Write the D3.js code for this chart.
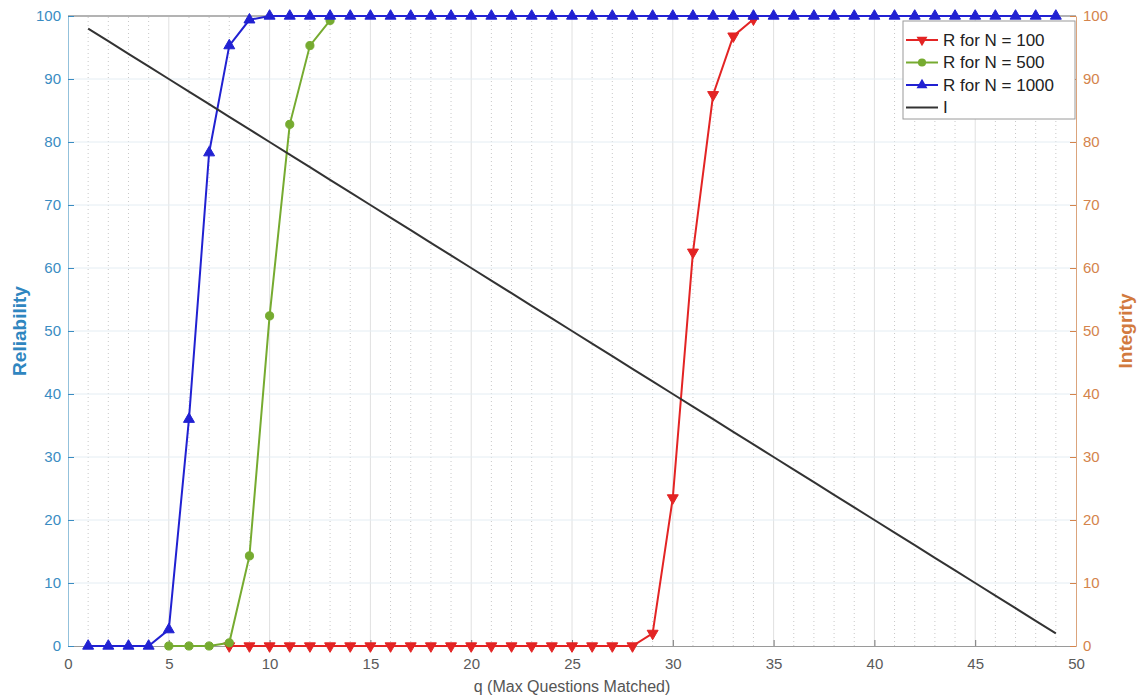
<!DOCTYPE html>
<html>
<head>
<meta charset="utf-8">
<script src="https://cdn.jsdelivr.net/npm/d3@7"></script>
<style>
  html, body { margin: 0; padding: 0; background: #fff; }
  svg { display: block; font-family: "Liberation Sans", Arial, sans-serif; }
</style>
</head>
<body>
<svg id="chart" width="1142" height="696"></svg>
<script>
// q = maximum number of questions matched
const q = [1,2,3,4,5,6,7,8,9,10,11,12,13,14,15,16,17,18,19,20,21,22,23,24,25,
           26,27,28,29,30,31,32,33,34,35,36,37,38,39,40,41,42,43,44,45,46,47,48,49];

// Reliability (%) for each population size; null = no sample drawn at that q
const reliabilityN100 = [null,null,null,null,null,null,null,0,0,0,0,0,0,0,0,0,0,0,0,0,0,0,0,0,0,
                         0,0,0,2,23.5,62.5,87.5,96.8,99.5,null,null,null,null,null,null,null,null,null,null,null,null,null,null,null];
const reliabilityN500 = [null,null,null,null,0,0,0,0.5,14.3,52.4,82.8,95.3,99.3,null,null,null,null,null,null,null,null,null,null,null,null,
                         null,null,null,null,null,null,null,null,null,null,null,null,null,null,null,null,null,null,null,null,null,null,null,null];
const reliabilityN1000 = [0,0,0,0,2.6,36,78.3,95.3,99.4,100,100,100,100,100,100,100,100,100,100,100,100,100,100,100,100,
                          100,100,100,100,100,100,100,100,100,100,100,100,100,100,100,100,100,100,100,100,100,100,100,100];

// Integrity (%), plotted against the right-hand axis
const integrity = [98,96,94,92,90,88,86,84,82,80,78,76,74,72,70,68,66,64,62,60,58,56,54,52,50,
                   48,46,44,42,40,38,36,34,32,30,28,26,24,22,20,18,16,14,12,10,8,6,4,2];

const xTicks = [0,5,10,15,20,25,30,35,40,45,50];
const yTicks = [0,10,20,30,40,50,60,70,80,90,100];
const legendLabels = ["R for N = 100", "R for N = 500", "R for N = 1000", "I"];

const leftColor = "#3a8cc2", leftLine = "#93c1db";
const rightColor = "#d4844c", rightLine = "#dba47c";

const svg = d3.select("#chart");
const x = d3.scaleLinear().domain([0, 50]).range([68, 1076]);
const yL = d3.scaleLinear().domain([0, 100]).range([646, 16]);
const yR = d3.scaleLinear().domain([0, 100]).range([646, 16]);

// grid: dotted minor verticals, solid major verticals, horizontal lines at every 10
const grid = svg.append("g");
grid.selectAll("line.minor").data(d3.range(1, 50).filter(v => v % 5 !== 0)).join("line")
  .attr("x1", d => x(d)).attr("x2", d => x(d)).attr("y1", yL(0)).attr("y2", yL(100))
  .attr("stroke", "#c8c8c8").attr("stroke-width", 1).attr("stroke-dasharray", "1,3");
grid.selectAll("line.major").data(xTicks.slice(1, -1)).join("line")
  .attr("x1", d => x(d)).attr("x2", d => x(d)).attr("y1", yL(0)).attr("y2", yL(100))
  .attr("stroke", "#e0e0e0").attr("stroke-width", 1);
grid.selectAll("line.h").data(yTicks.slice(1, -1)).join("line")
  .attr("x1", x(0)).attr("x2", x(50)).attr("y1", d => yL(d)).attr("y2", d => yL(d))
  .attr("stroke", "#e4edf3").attr("stroke-width", 1);

// box top
svg.append("line").attr("x1", x(0)).attr("x2", x(50)).attr("y1", yL(100)).attr("y2", yL(100))
  .attr("stroke", "#b3b3b3").attr("stroke-width", 2);

// axes
const fontSize = 15;
const xAxis = svg.append("g").attr("transform", `translate(0,${yL(0)})`)
  .call(d3.axisBottom(x).tickValues(xTicks).tickSizeInner(-6).tickSizeOuter(0).tickPadding(12));
xAxis.select(".domain").attr("stroke", "#9a9a9a");
xAxis.selectAll(".tick line").attr("stroke", "#777");
xAxis.selectAll("text").attr("fill", "#5a5a5a").attr("font-size", fontSize).attr("font-family", null);

const lAxis = svg.append("g").attr("transform", `translate(${x(0)},0)`)
  .call(d3.axisLeft(yL).tickValues(yTicks).tickSizeInner(-6).tickSizeOuter(0).tickPadding(7));
lAxis.select(".domain").attr("stroke", leftLine);
lAxis.selectAll(".tick line").attr("stroke", leftColor);
lAxis.selectAll("text").attr("fill", leftColor).attr("font-size", fontSize).attr("font-family", null);

const rAxis = svg.append("g").attr("transform", `translate(${x(50)},0)`)
  .call(d3.axisRight(yR).tickValues(yTicks).tickSizeInner(-6).tickSizeOuter(0).tickPadding(7));
rAxis.select(".domain").attr("stroke", rightLine);
rAxis.selectAll(".tick line").attr("stroke", rightColor);
rAxis.selectAll("text").attr("fill", rightColor).attr("font-size", fontSize).attr("font-family", null);

// titles
svg.append("text").attr("transform", `translate(26,331) rotate(-90)`)
  .attr("text-anchor", "middle").attr("font-size", 19).attr("font-weight", "bold")
  .attr("fill", "#2f86c0").text("Reliability");
svg.append("text").attr("transform", `translate(1132,331) rotate(-90)`)
  .attr("text-anchor", "middle").attr("font-size", 19).attr("font-weight", "bold")
  .attr("fill", "#d27a3e").text("Integrity");
svg.append("text").attr("x", (x(0) + x(50)) / 2).attr("y", 692)
  .attr("text-anchor", "middle").attr("font-size", 16).attr("fill", "#555")
  .text("q (Max Questions Matched)");

// reliability series
const series = [
  { values: reliabilityN100, color: "#e32424", symbol: d3.symbolTriangle, rot: 180 },
  { values: reliabilityN500, color: "#76ab30", symbol: d3.symbolCircle, rot: 0 },
  { values: reliabilityN1000, color: "#2121d2", symbol: d3.symbolTriangle, rot: 0 }
];

series.forEach(s => {
  const pts = q.map((d, i) => [d, s.values[i]]).filter(d => d[1] != null);
  svg.append("path").datum(pts)
    .attr("fill", "none").attr("stroke", s.color).attr("stroke-width", 2)
    .attr("d", d3.line().x(d => x(d[0])).y(d => yL(d[1])));
  svg.append("g").selectAll("path").data(pts).join("path")
    .attr("transform", d => `translate(${x(d[0])},${yL(d[1])}) rotate(${s.rot})`)
    .attr("d", d3.symbol().type(s.symbol).size(52))
    .attr("fill", s.color).attr("stroke", s.color).attr("stroke-width", 1);
});

// integrity line
svg.append("path").datum(q.map((d, i) => [d, integrity[i]]))
  .attr("fill", "none").attr("stroke", "#333").attr("stroke-width", 2)
  .attr("d", d3.line().x(d => x(d[0])).y(d => yR(d[1])));

// legend
const lg = svg.append("g");
lg.append("rect").attr("x", 903).attr("y", 21).attr("width", 172).attr("height", 98)
  .attr("fill", "#fff").attr("stroke", "#9a9a9a").attr("stroke-width", 1);
const legendItems = [
  { color: "#e32424", symbol: d3.symbolTriangle, rot: 180 },
  { color: "#76ab30", symbol: d3.symbolCircle, rot: 0 },
  { color: "#2121d2", symbol: d3.symbolTriangle, rot: 0 },
  { color: "#333", symbol: null, rot: 0 }
];
legendItems.forEach((it, i) => {
  const cy = 40 + i * 22.5;
  lg.append("line").attr("x1", 906).attr("x2", 938).attr("y1", cy).attr("y2", cy)
    .attr("stroke", it.color).attr("stroke-width", 2);
  if (it.symbol) {
    lg.append("path").attr("transform", `translate(922,${cy}) rotate(${it.rot})`)
      .attr("d", d3.symbol().type(it.symbol).size(52)).attr("fill", it.color);
  }
  lg.append("text").attr("x", 943).attr("y", cy).attr("dy", "0.35em")
    .attr("font-size", 17).attr("fill", "#222").text(legendLabels[i]);
});
</script>
</body>
</html>
